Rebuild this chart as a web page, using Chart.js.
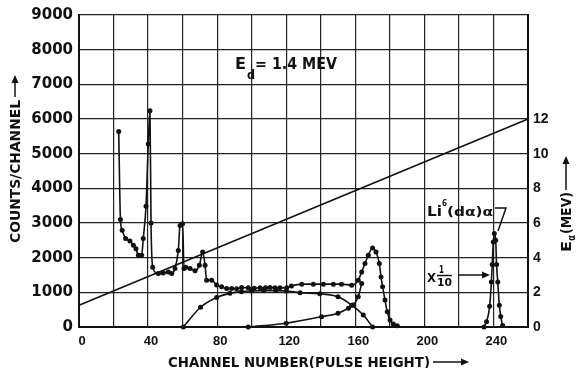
<!DOCTYPE html>
<html>
<head>
<meta charset="utf-8">
<script src="https://cdn.jsdelivr.net/npm/chart.js@4/dist/chart.umd.min.js"></script>
<style>
  html, body { margin: 0; padding: 0; background: #fff; }
  #wrap { width: 577px; height: 368px; }
</style>
</head>
<body>
<div id="wrap"><canvas id="spectrumChart" width="577" height="368"></canvas></div>
<script>
/* pulse height spectrum, Ed = 1.4 MeV */

const INK = "#111";

// main spectrum (counts / channel)
const mainChannels = [23, 24, 25, 27, 29.5, 31.5, 33, 34.4, 36.3, 37.2,
  38.8, 40.1, 41.1, 41.7, 42.7, 45.9, 48.8, 51.7, 53.7, 55.6,
  57.5, 58.5, 60, 60.8, 61.8, 64.3, 67.2, 69.7, 71.6, 73,
  73.9, 76.8, 79.7, 82.6, 85.5, 88.4, 91.3, 94.2, 98, 101.5,
  104.8, 108, 110.6, 113.5, 116.4, 120.3, 123, 129, 135.7, 141.5,
  147.3, 152, 157.9, 161.7, 163.7, 165.6, 167.5, 170, 172, 173.9,
  174.9, 175.8, 177.2, 178.5, 180.1, 182, 184.3];
const mainCounts = [5640, 3100, 2790, 2550, 2480, 2360, 2260, 2070, 2070, 2550,
  3480, 5280, 6240, 3000, 1720, 1540, 1560, 1590, 1540, 1690,
  2210, 2930, 2980, 1690, 1720, 1690, 1620, 1780, 2160, 1780,
  1350, 1350, 1210, 1160, 1110, 1110, 1100, 1140, 1130, 1120,
  1130, 1130, 1140, 1130, 1130, 1130, 1180, 1236, 1236, 1236,
  1236, 1236, 1207, 1351, 1590, 1830, 2069, 2280, 2164, 1830,
  1445, 1158, 776, 440, 201, 86, 37];

// broad continuum under the spectrum
const contChannels = [60.4, 70.4, 79.7, 87.4, 94, 100, 107, 114, 120, 128, 139.5, 150, 157.9, 164.6, 170];
const contCounts = [0, 570, 850, 970, 1020, 1040, 1050, 1050, 1040, 990, 960, 870, 630, 345, 0];

// rising tail into the 170 peak
const riseChannels = [98, 120, 140.5, 150, 156, 158.8, 161.7, 163.7];
const riseCounts = [0, 110, 296, 400, 540, 632, 871, 1256];

// Li6(d,a)a peak, plotted x 1/10
const liChannels = [234.5, 236, 237.8, 238.8, 239.3, 239.9, 240.5, 241.3, 241.8, 242.5, 243.4, 244.2, 245.3];
const liCounts = [0, 150, 600, 1300, 1800, 2450, 2700, 2500, 1800, 1300, 630, 300, 40];

// energy calibration line (right axis, MeV)
const energyChannels = [0, 260];
const energyMeV = [1.25, 12];

const xTicksLabelled = [0, 40, 80, 120, 160, 200, 240];
const rightTicksLabelled = [0, 2, 4, 6, 8, 10, 12];

function points(xs, ys) {
  return xs.map((x, i) => ({ x, y: ys[i] }));
}

function curve(xs, ys, withDots) {
  return {
    data: points(xs, ys),
    showLine: true,
    borderColor: INK,
    backgroundColor: INK,
    borderWidth: 1.6,
    pointRadius: withDots ? 2.5 : 0,
    pointBorderWidth: 0,
    cubicInterpolationMode: "monotone",
    yAxisID: "y",
    clip: 6,
  };
}

function fitText(ctx, text, x, y, width, font) {
  ctx.save();
  ctx.font = font;
  const w = ctx.measureText(text).width;
  ctx.translate(x, y);
  ctx.scale(width / w, 1);
  ctx.textAlign = "left";
  ctx.textBaseline = "alphabetic";
  ctx.fillText(text, 0, 0);
  ctx.restore();
}

function arrow(ctx, x1, y1, x2, y2) {
  const a = Math.atan2(y2 - y1, x2 - x1);
  ctx.beginPath();
  ctx.moveTo(x1, y1);
  ctx.lineTo(x2 - 5 * Math.cos(a), y2 - 5 * Math.sin(a));
  ctx.stroke();
  ctx.beginPath();
  ctx.moveTo(x2, y2);
  ctx.lineTo(x2 - 8 * Math.cos(a) + 3.5 * Math.sin(a), y2 - 8 * Math.sin(a) - 3.5 * Math.cos(a));
  ctx.lineTo(x2 - 8 * Math.cos(a) - 3.5 * Math.sin(a), y2 - 8 * Math.sin(a) + 3.5 * Math.cos(a));
  ctx.closePath();
  ctx.fill();
}

const BOLD = (size) => `bold ${size}px "DejaVu Sans"`;

const annotations = {
  id: "annotations",
  afterDraw(chart) {
    const ctx = chart.ctx;
    ctx.save();
    ctx.fillStyle = INK;
    ctx.strokeStyle = INK;
    ctx.lineWidth = 1.5;

    // left axis title
    ctx.save();
    ctx.translate(20, 243);
    ctx.rotate(-Math.PI / 2);
    fitText(ctx, "COUNTS/CHANNEL", 0, 0, 143, BOLD(14));
    arrow(ctx, 146, -5, 168, -5);
    ctx.restore();

    // right axis title
    ctx.save();
    ctx.translate(571, 252);
    ctx.rotate(-Math.PI / 2);
    fitText(ctx, "E", 0, 0, 11, BOLD(14));
    fitText(ctx, "\u03b1", 11, 4, 6, BOLD(10));
    fitText(ctx, "(MEV)", 18, 0, 42, BOLD(14));
    arrow(ctx, 62, -5, 96, -5);
    ctx.restore();

    // x axis title
    fitText(ctx, "CHANNEL NUMBER(PULSE HEIGHT)", 168, 367, 262, BOLD(14));
    arrow(ctx, 433, 362, 469, 362);

    // beam energy
    fitText(ctx, "E", 235, 69, 11, BOLD(15));
    fitText(ctx, "d", 247, 79, 8, BOLD(12));
    fitText(ctx, "= 1.4 MEV", 255, 69, 82, BOLD(15));

    // Li6(d,a)a label and pointer
    fitText(ctx, "Li", 427, 216, 15, BOLD(14));
    fitText(ctx, "6", 442, 206, 5, BOLD(9));
    fitText(ctx, "(d\u03b1)\u03b1", 447, 216, 46, BOLD(13));
    ctx.beginPath();
    ctx.moveTo(495, 208);
    ctx.lineTo(506, 208);
    ctx.lineTo(498, 231);
    ctx.stroke();

    // x 1/10 label and arrow
    fitText(ctx, "X", 427, 282, 9, BOLD(13));
    fitText(ctx, "1", 439, 273, 5, BOLD(10));
    ctx.beginPath();
    ctx.moveTo(437, 275.5);
    ctx.lineTo(452, 275.5);
    ctx.stroke();
    fitText(ctx, "10", 437, 286, 15, BOLD(10));
    arrow(ctx, 459, 275, 490, 275);

    ctx.restore();
  },
};

new Chart(document.getElementById("spectrumChart"), {
  type: "scatter",
  data: {
    datasets: [
      curve(mainChannels, mainCounts, true),
      curve(contChannels, contCounts, true),
      curve(riseChannels, riseCounts, true),
      curve(liChannels, liCounts, true),
      Object.assign(curve(energyChannels, energyMeV, false), { yAxisID: "yE", cubicInterpolationMode: "default", tension: 0 }),
    ],
  },
  options: {
    responsive: false,
    animation: false,
    devicePixelRatio: 1,
    layout: { padding: { top: 14, left: 0, right: 0, bottom: 0 } },
    plugins: { legend: { display: false }, tooltip: { enabled: false } },
    scales: {
      x: {
        type: "linear",
        min: 0,
        max: 260,
        afterFit: (s) => { s.height = 41; },
        ticks: {
          stepSize: 20,
          autoSkip: false,
          maxRotation: 0,
          padding: 7,
          labelOffset: 3,
          color: INK,
          font: { family: "Liberation Sans", weight: "bold", size: 13 },
          callback: (v) => (xTicksLabelled.includes(v) ? String(v) : ""),
        },
        grid: { color: "#222", lineWidth: 1.2, drawTicks: false },
        border: { color: INK, width: 2 },
      },
      y: {
        position: "left",
        min: 0,
        max: 9000,
        afterFit: (s) => { s.width = 79; },
        ticks: {
          stepSize: 1000,
          padding: 6,
          color: INK,
          font: { family: "DejaVu Sans", weight: "bold", size: 15 },
          callback: (v) => String(v),
        },
        grid: { color: "#222", lineWidth: 1.2, drawTicks: false },
        border: { color: INK, width: 2 },
      },
      yE: {
        position: "right",
        min: 0,
        max: 18,
        afterFit: (s) => { s.width = 49; },
        ticks: {
          stepSize: 2,
          padding: 5,
          color: INK,
          font: { family: "Liberation Sans", weight: "bold", size: 14 },
          callback: (v) => (rightTicksLabelled.includes(v) ? String(v) : ""),
        },
        grid: { drawOnChartArea: false, drawTicks: false },
        border: { color: INK, width: 2 },
      },
    },
  },
  plugins: [annotations],
});
</script>
</body>
</html>
